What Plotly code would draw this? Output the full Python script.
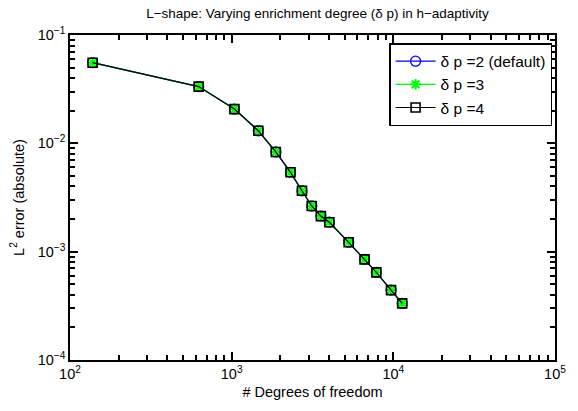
import plotly.graph_objects as go

dofs = [138, 625, 1040, 1462, 1875, 2312, 2722, 3128, 3562, 4021, 5292, 6637, 7850, 9680, 11350]
err_p2 = [0.0555, 0.0334, 0.0207, 0.01306, 0.00832, 0.00540, 0.00365, 0.00264, 0.00213, 0.00187,
          0.00122, 0.000849, 0.000644, 0.000442, 0.000333]
err_p3 = list(err_p2)
err_p4 = list(err_p2)

names = ["δ p =2 (default)", "δ p =3", "δ p =4"]
xticks = [100, 1000, 10000, 100000]
xticktext = ["10<sup>2</sup>", "10<sup>3</sup>", "10<sup>4</sup>", "10<sup>5</sup>"]
yticks = [1e-4, 1e-3, 1e-2, 1e-1]
yticktext = ["10<sup>−4</sup>", "10<sup>−3</sup>", "10<sup>−2</sup>", "10<sup>−1</sup>"]
x_minor = [m * 10 ** e for e in (2, 3, 4) for m in range(2, 10)]
y_minor = [m * 10.0 ** e for e in (-4, -3, -2) for m in range(2, 10)]

fig = go.Figure()
fig.add_trace(go.Scatter(x=dofs, y=err_p2, name=names[0], mode="lines+markers",
                         line=dict(color="#0000ff", width=1.2),
                         marker=dict(symbol="circle-open", size=10, color="#0000ff", line=dict(width=1.3))))
fig.add_trace(go.Scatter(x=dofs, y=err_p3, name=names[1], mode="lines+markers",
                         line=dict(color="#00ff00", width=1.2),
                         marker=dict(symbol="asterisk-open", size=9, color="#00ff00", line=dict(width=2, color="#00ff00"))))
fig.add_trace(go.Scatter(x=dofs, y=err_p4, name=names[2], mode="lines+markers",
                         line=dict(color="#000000", width=1.2),
                         marker=dict(symbol="square-open", size=9, color="#000000", line=dict(width=1.6))))

axis_common = dict(showgrid=False, zeroline=False, showline=True, linecolor="black", linewidth=1.5,
                   mirror="allticks", ticks="inside", ticklen=8, tickcolor="black", tickwidth=2,
                   tickfont=dict(size=14.5, color="black"), layer="above traces")

fig.update_layout(
    xaxis=dict(type="log", range=[2, 5], tickmode="array", tickvals=xticks, ticktext=xticktext,
               minor=dict(ticks="inside", ticklen=5, tickcolor="black", tickwidth=1.5,
                          tickmode="array", tickvals=x_minor),
               title=dict(text="# Degrees of freedom", font=dict(size=14.5, color="black"), standoff=6),
               **axis_common),
    yaxis=dict(type="log", range=[-4, -1], tickmode="array", tickvals=yticks, ticktext=yticktext,
               minor=dict(ticks="inside", ticklen=5, tickcolor="black", tickwidth=1.5,
                          tickmode="array", tickvals=y_minor),
               title=dict(text="L<sup>2</sup> error (absolute)", font=dict(size=14.5, color="black"), standoff=10),
               **axis_common),
)

fig.update_layout(
    width=578, height=411,
    margin=dict(l=70, r=13, t=35, b=51),
    paper_bgcolor="white", plot_bgcolor="white",
    font=dict(family="Liberation Sans, Arial, sans-serif", color="black", size=14),
    title=dict(text="L−shape: Varying enrichment degree (δ p) in h−adaptivity",
               x=(70 + 565) / 2 / 578, xanchor="center", y=0.968, yanchor="middle",
               font=dict(size=13.5, color="black")),
    legend=dict(x=0.994, y=0.975, xanchor="right", yanchor="top",
                bordercolor="black", borderwidth=1.5, bgcolor="white",
                font=dict(size=15.5, color="black"), tracegroupgap=0, itemwidth=40),
    showlegend=True,
)

fig.write_html("out.html")
